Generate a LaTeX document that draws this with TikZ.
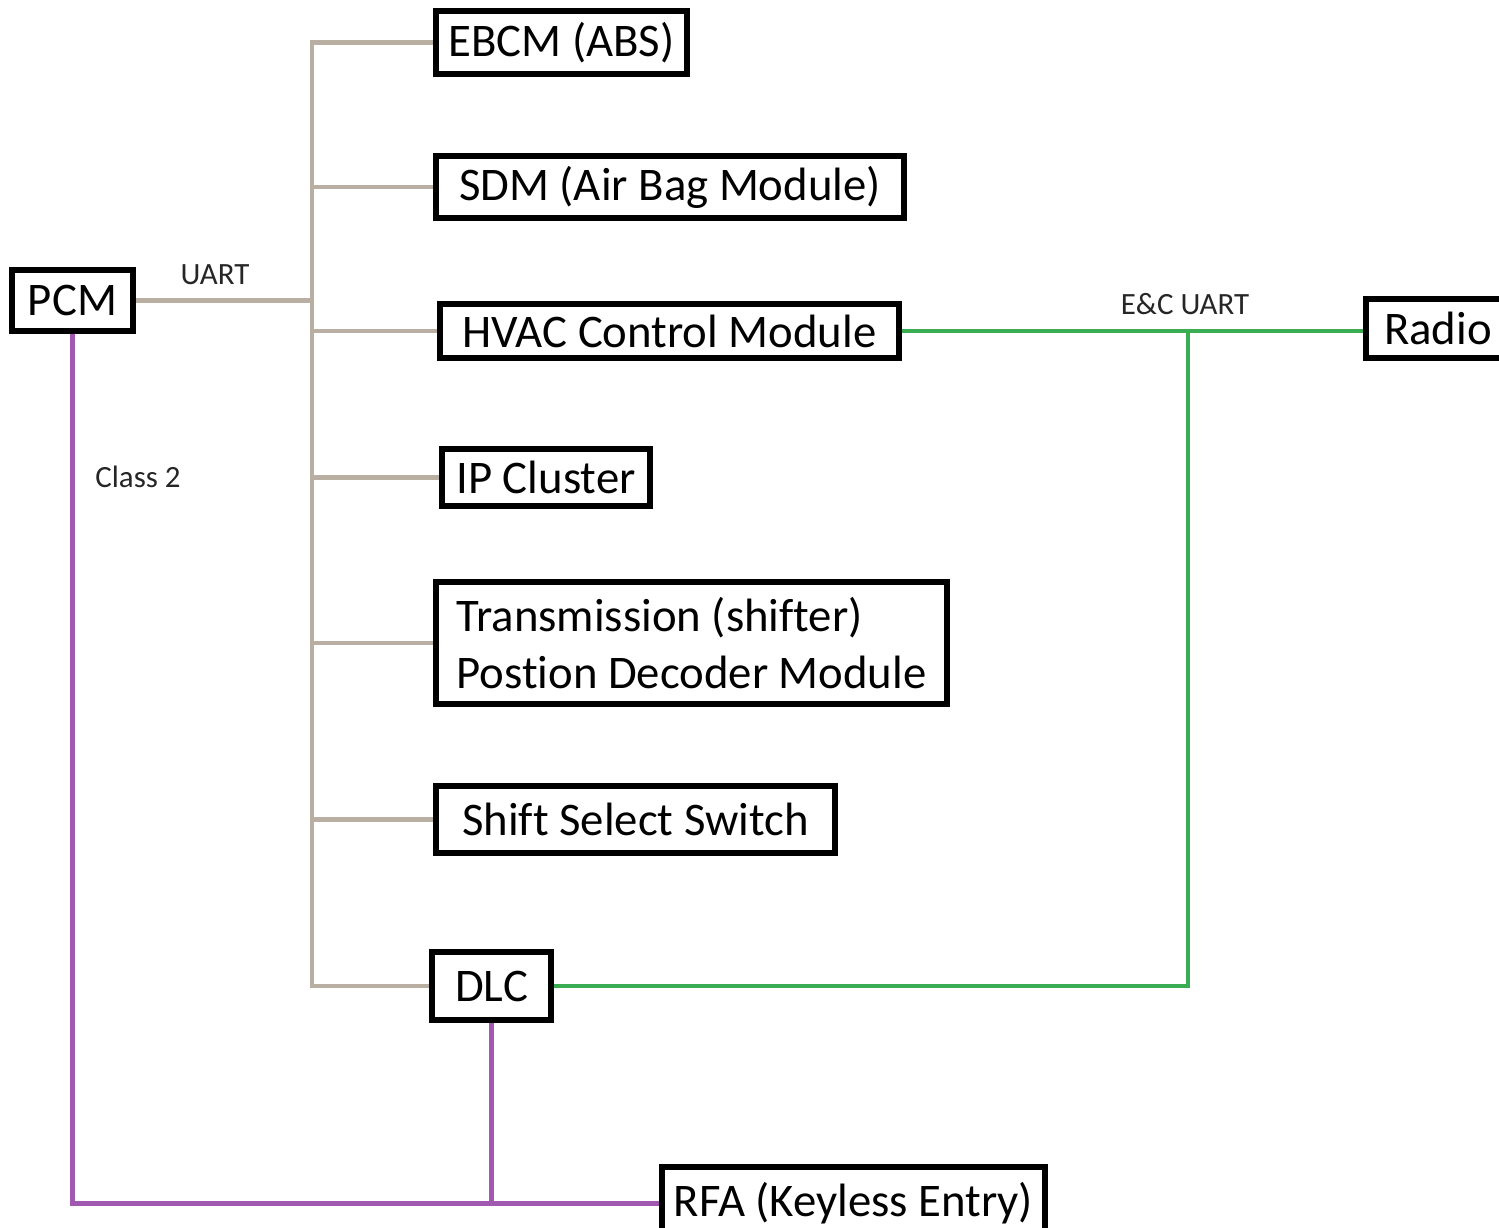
\documentclass[tikz,border=0pt]{standalone}
\usepackage{fontspec}
\setmainfont{Carlito}[Ligatures=NoCommon]
\definecolor{busgray}{RGB}{184,174,162}
\definecolor{busgreen}{RGB}{58,172,82}
\definecolor{buspurple}{RGB}{160,88,176}
\begin{document}
\begin{tikzpicture}[
    module/.style={draw, line width=1.45pt, inner sep=0pt, font=\fontsize{13.3}{16.2}\selectfont, align=left},
    uart/.style={busgray, line width=1.15pt},
    ecuart/.style={busgreen, line width=1.15pt},
    classtwo/.style={buspurple, line width=1.15pt},
    lbl/.style={font=\fontsize{8.8}{10}\selectfont, text=black!85}]
\useasboundingbox (0,0) rectangle (14.99,-12.28);

\node[module, minimum width=1.21cm, minimum height=0.61cm] (pcm) at (0.725,-3.005) {PCM};
\node[module, minimum width=2.51cm, minimum height=0.63cm] (ebcm) at (5.615,-0.425) {EBCM (ABS)};
\node[module, minimum width=4.68cm, minimum height=0.62cm] (sdm) at (6.70,-1.87) {SDM (Air Bag Module)};
\node[module, minimum width=4.59cm, minimum height=0.54cm] (hvac) at (6.695,-3.31) {HVAC Control Module};
\node[module, minimum width=2.08cm, minimum height=0.57cm] (ipc) at (5.46,-4.775) {IP Cluster};
\node[module, minimum width=5.11cm, minimum height=1.22cm] (tpdm) at (6.915,-6.43) {Transmission (shifter)\\Postion Decoder Module};
\node[module, minimum width=3.99cm, minimum height=0.67cm] (sss) at (6.355,-8.195) {Shift Select Switch};
\node[module, minimum width=1.19cm, minimum height=0.68cm] (dlc) at (4.915,-9.86) {DLC};
\node[module, minimum width=3.83cm, minimum height=0.73cm] (rfa) at (8.535,-12.035) {RFA (Keyless Entry)};
\node[module, minimum width=1.44cm, minimum height=0.59cm] (radio) at (14.38,-3.285) {Radio};

% UART bus
\coordinate (trunk) at (3.12,-3.00);
\draw[uart] (ebcm.west) -- (ebcm.west -| trunk) |- (dlc.west);
\draw[uart] (pcm.east) -- (pcm.east -| trunk);
\draw[uart] (sdm.west) -- (sdm.west -| trunk);
\draw[uart] (hvac.west) -- (hvac.west -| trunk);
\draw[uart] (ipc.west) -- (ipc.west -| trunk);
\draw[uart] (tpdm.west) -- (tpdm.west -| trunk);
\draw[uart] (sss.west) -- (sss.west -| trunk);
\node[lbl] (uartlbl) at (2.15,-2.75) {UART};

% E&C UART
\coordinate (ectap) at (11.88,-3.31);
\draw[ecuart] (hvac.east) -- (hvac.east -| radio.west);
\draw[ecuart] (dlc.east) -| (ectap);
\node[lbl] (eclbl) at (11.85,-3.04) {E\&C UART};

% Class 2
\draw[classtwo] (pcm.south) |- (rfa.west);
\draw[classtwo] (dlc.south) -- (dlc.south |- rfa.west);
\node[lbl] (c2lbl) at (1.38,-4.77) {Class 2};

\end{tikzpicture}
\end{document}
